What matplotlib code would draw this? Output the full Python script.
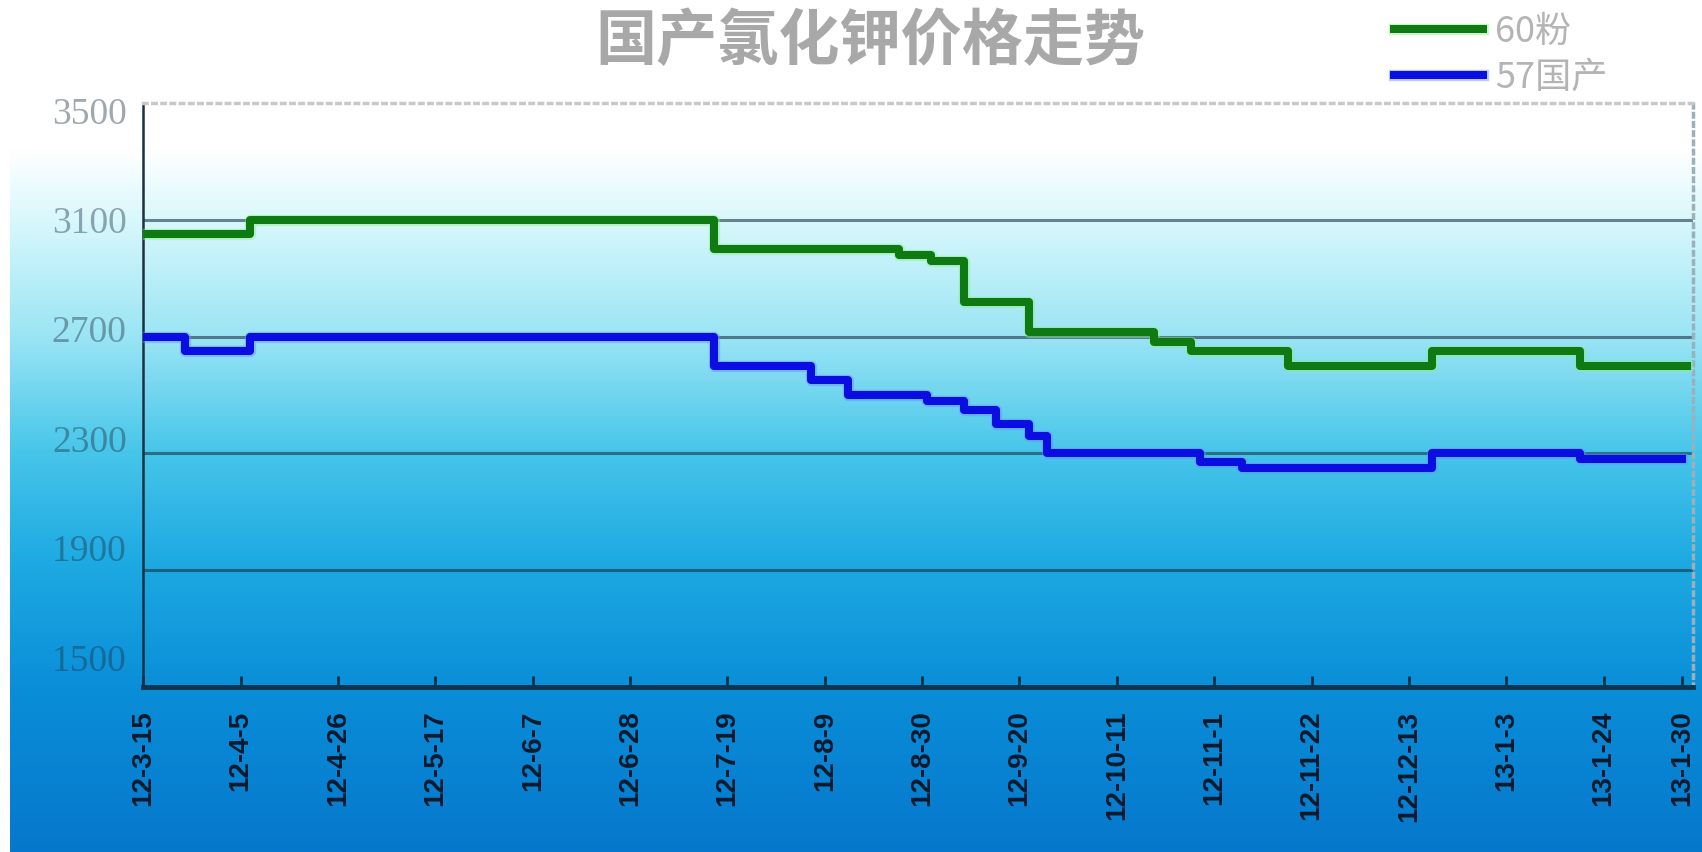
import numpy as np
import matplotlib
matplotlib.use('Agg')
import matplotlib.pyplot as plt
import matplotlib.patheffects as pe
from matplotlib.colors import LinearSegmentedColormap

# days counted from 2012-3-15
tick_days = [0, 21, 42, 63, 84, 105, 126, 147, 168, 189, 210, 231, 252, 273, 294, 315, 332]
tick_labels = ['12-3-15', '12-4-5', '12-4-26', '12-5-17', '12-6-7', '12-6-28', '12-7-19',
               '12-8-9', '12-8-30', '12-9-20', '12-10-11', '12-11-1', '12-11-22',
               '12-12-13', '13-1-3', '13-1-24', '13-1-30']

green_days = [0, 23, 123, 163, 170, 177, 191, 218, 226, 247, 278, 310, 333]
green_vals = [3050, 3100, 3000, 2980, 2960, 2820, 2715, 2680, 2650, 2600, 2650, 2600, 2600]

blue_days = [0, 9, 23, 123, 144, 152, 169, 177, 184, 191, 195, 228, 237, 278, 310, 332]
blue_vals = [2700, 2650, 2700, 2600, 2550, 2500, 2480, 2450, 2400, 2360, 2300, 2270, 2250,
             2300, 2280, 2280]

grid_vals = [1900, 2300, 2700, 3100]
label_vals = [1500, 1900, 2300, 2700, 3100, 3500]

W, H = 1702, 852
fig = plt.figure(figsize=(W / 100, H / 100), dpi=100)

# background gradient (white top -> blue bottom)
bg_stops = [(0, '#ffffff'), (150 / H, '#ffffff'), (220 / H, '#d8f8fc'), (340 / H, '#98e4f4'),
            (450 / H, '#48c6ea'), (560 / H, '#1eaae2'), (690 / H, '#0a8ed8'), (1, '#0678cc')]
cmap = LinearSegmentedColormap.from_list('bg', bg_stops)
bg = fig.add_axes([0, 0, 1, 1], zorder=0)
bg.axis('off')
bg.imshow(np.linspace(0, 1, 512).reshape(-1, 1), cmap=cmap, aspect='auto',
          extent=[10 / W, 1, 0, 1], origin='upper')
bg.set_xlim(0, 1)
bg.set_ylim(0, 1)

ax = fig.add_axes([143.4 / W, 1 - 687 / H, (1693 - 143.4) / W, (687 - 103) / H], zorder=1)
ax.patch.set_alpha(0)

ax.plot(green_days, green_vals, drawstyle='steps-post', color='#0f7a12', lw=5.8,
        path_effects=[pe.Stroke(linewidth=8.2, foreground='#8ef08e', alpha=0.45), pe.Normal()],
        label='60粉', zorder=3)
ax.plot(blue_days, blue_vals, drawstyle='steps-post', color='#0a0ee0', lw=5.8,
        path_effects=[pe.Stroke(linewidth=8.2, foreground='#6a90ff', alpha=0.45), pe.Normal()],
        label='57国产', zorder=3)

ax.set_xlim(0, 334.3)
ax.set_ylim(1500, 3500)

# keep the 3100 grid line even though a label tick sits on the same value
ax.yaxis.remove_overlapping_locs = False
ax.set_yticks(grid_vals, minor=True)
ax.grid(which='minor', axis='y', color='#1a3444', alpha=0.6, lw=2.2)
ax.set_axisbelow(True)
ax.tick_params(axis='y', which='minor', length=0)

# the value labels sit on a slightly squeezed scale in the original
label_pos = 3100 + (np.array(label_vals) - 3100) * 0.937
ax.set_yticks(label_pos, labels=[str(v) for v in label_vals])
ax.tick_params(axis='y', which='major', length=0, pad=12, labelsize=27, labelcolor='#1c3040')
for t in ax.get_yticklabels():
    t.set_family('Liberation Serif')
    t.set_alpha(0.42)

ax.set_xticks(tick_days, labels=tick_labels, rotation=90)
ax.tick_params(axis='x', direction='in', length=8, width=2, color='#123048', pad=17,
               labelsize=20, labelcolor='#0b1a2c')
for t in ax.get_xticklabels():
    t.set_family('Liberation Sans')
    t.set_fontweight('bold')

ax.spines['left'].set_color('#1d3040')
ax.spines['left'].set_linewidth(1.8)
ax.spines['bottom'].set_color('#0d3550')
ax.spines['bottom'].set_linewidth(3.5)
ax.spines['top'].set_linestyle(':')
ax.spines['top'].set_color('#c8c8c8')
ax.spines['top'].set_linewidth(2.5)
ax.spines['right'].set_linestyle(':')
ax.spines['right'].set_color('#9ab0ba')
ax.spines['right'].set_linewidth(2.5)

fig.text(870 / W, 1 - 42 / H, '国产氯化钾价格走势', ha='center', va='center', fontsize=44,
         fontweight='bold', color='#a8a8a8', family=['Noto Sans CJK SC', 'DejaVu Sans'])

ax.legend(loc='upper left', bbox_to_anchor=(1394 / W, 1 - 14 / H), bbox_transform=fig.transFigure,
          frameon=False, prop={'family': ['Noto Sans CJK SC', 'DejaVu Sans'], 'size': 26},
          labelcolor='#b4b4b4', handlelength=89 / 36, handletextpad=0.33, labelspacing=0.28,
          borderpad=0, borderaxespad=0)

fig.savefig('out.png', dpi=100)
